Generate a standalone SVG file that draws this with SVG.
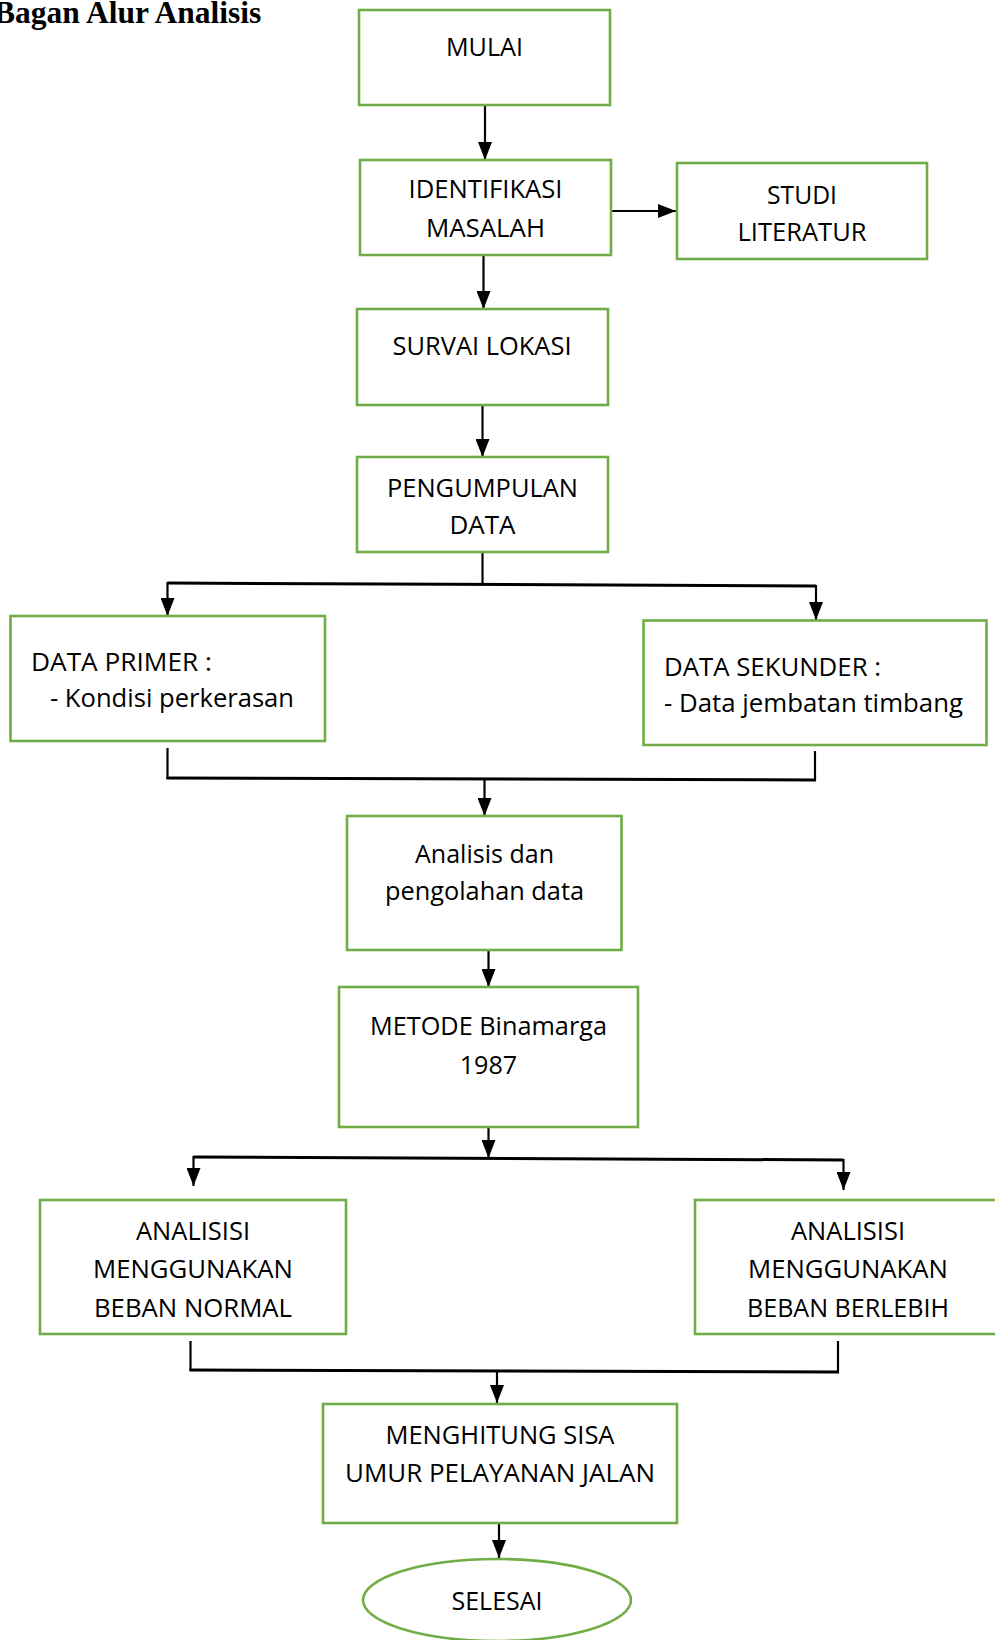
<svg xmlns="http://www.w3.org/2000/svg" width="995" height="1640" viewBox="0 0 995 1640">
<style>
.box{fill:#fff;stroke:#70AD47;stroke-width:2.6}
.t{font-family:"Open Sans","Noto Sans",sans-serif;font-size:25px;fill:#000;text-anchor:middle}
.l{font-family:"Open Sans","Noto Sans",sans-serif;font-size:25px;fill:#000;text-anchor:start}
.c{fill:none;stroke:#000;stroke-width:2.2}
.h{fill:none;stroke:#000;stroke-width:3}
.title{font-family:"Liberation Serif","Times New Roman",serif;font-weight:bold;font-size:31.5px;fill:#000}
</style>
<defs>
<marker id="arr" viewBox="0 0 18 14" refX="18" refY="7" markerWidth="18" markerHeight="14" markerUnits="userSpaceOnUse" orient="auto">
<path d="M0,0 L18,7 L0,14 z" fill="#000"/>
</marker>
</defs>
<rect width="995" height="1640" fill="#fff"/>
<text class="title" x="-6" y="23">Bagan Alur Analisis</text>

<g id="connectors">
<path class="c" d="M485,106 V160" marker-end="url(#arr)"/>
<path class="c" d="M611,211 H676" marker-end="url(#arr)"/>
<path class="c" d="M483.5,255 V309" marker-end="url(#arr)"/>
<path class="c" d="M482.5,405 V457" marker-end="url(#arr)"/>
<path class="c" d="M482.5,552 V584"/>
<path class="h" d="M167.5,583 L816,586"/>
<path class="c" d="M167.5,582 V616" marker-end="url(#arr)"/>
<path class="c" d="M816,585 V620" marker-end="url(#arr)"/>
<path class="c" d="M167.5,748 V779"/>
<path class="c" d="M815,751 V781"/>
<path class="h" d="M166.5,778 L816,780"/>
<path class="c" d="M484.5,779 V816" marker-end="url(#arr)"/>
<path class="c" d="M488.5,950 V987" marker-end="url(#arr)"/>
<path class="c" d="M488.5,1127 V1158" marker-end="url(#arr)"/>
<path class="h" d="M193.5,1157 L843.5,1160"/>
<path class="c" d="M193.5,1156 V1186" marker-end="url(#arr)"/>
<path class="c" d="M843.5,1159 V1190" marker-end="url(#arr)"/>
<path class="c" d="M190.5,1341 V1371"/>
<path class="c" d="M838,1341 V1373"/>
<path class="h" d="M189.5,1370 L839,1372"/>
<path class="c" d="M497,1371 V1403" marker-end="url(#arr)"/>
<path class="c" d="M499,1523 V1558" marker-end="url(#arr)"/>
</g>

<g id="mulai">
<rect class="box" x="359" y="10" width="251" height="95"/>
<text class="t" x="484.5" y="56" textLength="77" lengthAdjust="spacingAndGlyphs">MULAI</text>
</g>
<g id="identifikasi">
<rect class="box" x="360" y="160" width="251" height="95"/>
<text class="t" x="485.5" y="198" textLength="154" lengthAdjust="spacingAndGlyphs">IDENTIFIKASI</text>
<text class="t" x="485.5" y="237" textLength="119" lengthAdjust="spacingAndGlyphs">MASALAH</text>
</g>
<g id="studi">
<rect class="box" x="677" y="163" width="250" height="96"/>
<text class="t" x="802" y="204" textLength="70" lengthAdjust="spacingAndGlyphs">STUDI</text>
<text class="t" x="802" y="241" textLength="129" lengthAdjust="spacingAndGlyphs">LITERATUR</text>
</g>
<g id="survai">
<rect class="box" x="357" y="309" width="251" height="96"/>
<text class="t" x="482" y="355" textLength="179" lengthAdjust="spacingAndGlyphs">SURVAI LOKASI</text>
</g>
<g id="pengumpulan">
<rect class="box" x="357" y="457" width="251" height="95"/>
<text class="t" x="482.5" y="497" textLength="191" lengthAdjust="spacingAndGlyphs">PENGUMPULAN</text>
<text class="t" x="482.5" y="534" textLength="66" lengthAdjust="spacingAndGlyphs">DATA</text>
</g>
<g id="primer">
<rect class="box" x="10.5" y="616" width="314.5" height="125"/>
<text class="l" x="31" y="671" textLength="181" lengthAdjust="spacingAndGlyphs">DATA PRIMER :</text>
<text class="l" x="50" y="707" textLength="244" lengthAdjust="spacingAndGlyphs">-  Kondisi perkerasan</text>
</g>
<g id="sekunder">
<rect class="box" x="643.5" y="620.5" width="343" height="124.5"/>
<text class="l" x="664" y="675.5" textLength="217" lengthAdjust="spacingAndGlyphs">DATA SEKUNDER :</text>
<text class="l" x="664" y="712" textLength="299" lengthAdjust="spacingAndGlyphs">-  Data jembatan timbang</text>
</g>
<g id="analisis">
<rect class="box" x="347" y="816" width="274.5" height="134"/>
<text class="t" x="484.5" y="863" textLength="139" lengthAdjust="spacingAndGlyphs">Analisis dan</text>
<text class="t" x="484.5" y="900" textLength="199" lengthAdjust="spacingAndGlyphs">pengolahan data</text>
</g>
<g id="metode">
<rect class="box" x="339" y="987" width="299" height="140"/>
<text class="t" x="488.5" y="1035" textLength="237" lengthAdjust="spacingAndGlyphs">METODE Binamarga</text>
<text class="t" x="488.5" y="1074" textLength="57.5" lengthAdjust="spacingAndGlyphs">1987</text>
</g>
<g id="normal">
<rect class="box" x="40" y="1200" width="306" height="134"/>
<text class="t" x="193" y="1239.5" textLength="114" lengthAdjust="spacingAndGlyphs">ANALISISI</text>
<text class="t" x="193" y="1278" textLength="200" lengthAdjust="spacingAndGlyphs">MENGGUNAKAN</text>
<text class="t" x="193" y="1317" textLength="198" lengthAdjust="spacingAndGlyphs">BEBAN NORMAL</text>
</g>
<g id="berlebih">
<rect class="box" x="695" y="1200" width="310" height="134"/>
<text class="t" x="848" y="1239.5" textLength="114" lengthAdjust="spacingAndGlyphs">ANALISISI</text>
<text class="t" x="848" y="1278" textLength="200" lengthAdjust="spacingAndGlyphs">MENGGUNAKAN</text>
<text class="t" x="848" y="1317" textLength="202" lengthAdjust="spacingAndGlyphs">BEBAN BERLEBIH</text>
</g>
<g id="menghitung">
<rect class="box" x="323" y="1404" width="354" height="119"/>
<text class="t" x="500" y="1443.5" textLength="229" lengthAdjust="spacingAndGlyphs">MENGHITUNG SISA</text>
<text class="t" x="500" y="1482" textLength="310" lengthAdjust="spacingAndGlyphs">UMUR PELAYANAN JALAN</text>
</g>
<g id="selesai">
<ellipse class="box" cx="497" cy="1600" rx="134" ry="41"/>
<text class="t" x="497" y="1610" textLength="91" lengthAdjust="spacingAndGlyphs">SELESAI</text>
</g>
</svg>
